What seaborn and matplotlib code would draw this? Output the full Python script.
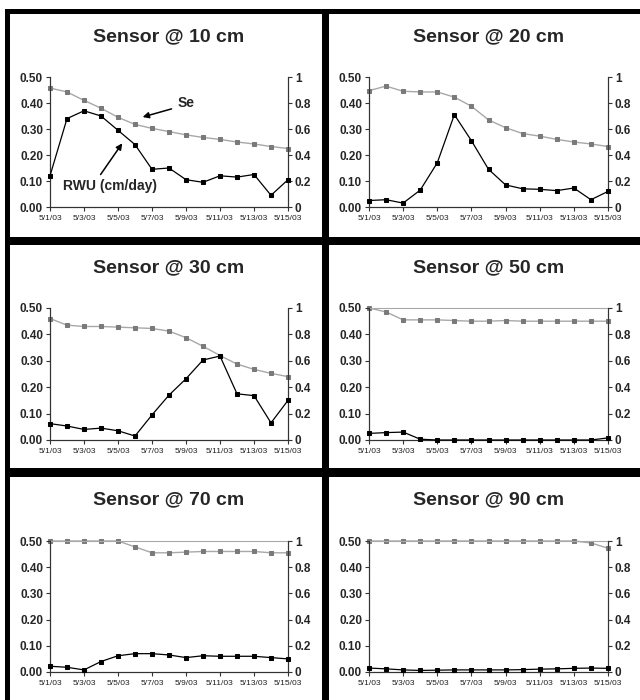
import matplotlib
matplotlib.use('Agg')
import matplotlib.pyplot as plt
import seaborn as sns
from matplotlib.patches import Rectangle

sns.set_style('white')
plt.rcParams['font.family'] = ['Liberation Sans', 'DejaVu Sans']

# days of May 2003
days = list(range(1, 16))
tick_days = [1, 3, 5, 7, 9, 11, 13, 15]
tick_labels = ['5/1/03', '5/3/03', '5/5/03', '5/7/03', '5/9/03', '5/11/03', '5/13/03', '5/15/03']

depths = ['10', '20', '30', '50', '70', '90']

# root water uptake, cm/day (left axis)
rwu_10 = [0.12, 0.34, 0.37, 0.35, 0.295, 0.24, 0.145, 0.15, 0.105, 0.095, 0.12, 0.115, 0.125, 0.045, 0.105]
rwu_20 = [0.025, 0.028, 0.015, 0.065, 0.17, 0.355, 0.255, 0.145, 0.085, 0.07, 0.068, 0.063, 0.073, 0.028, 0.06]
rwu_30 = [0.062, 0.053, 0.04, 0.045, 0.035, 0.015, 0.095, 0.17, 0.232, 0.303, 0.318, 0.175, 0.168, 0.065, 0.15]
rwu_50 = [0.025, 0.028, 0.03, 0.003, 0.0, 0.0, 0.0, 0.0, 0.0, 0.0, 0.0, 0.0, 0.0, 0.0, 0.008]
rwu_70 = [0.022, 0.018, 0.008, 0.04, 0.062, 0.07, 0.07, 0.065, 0.055, 0.062, 0.06, 0.06, 0.06, 0.055, 0.05]
rwu_90 = [0.015, 0.012, 0.008, 0.006, 0.007, 0.008, 0.008, 0.008, 0.008, 0.009, 0.011, 0.012, 0.014, 0.015, 0.014]

# effective saturation Se (right axis)
se_10 = [0.915, 0.885, 0.82, 0.76, 0.69, 0.635, 0.605, 0.58, 0.555, 0.535, 0.52, 0.50, 0.485, 0.465, 0.45]
se_20 = [0.895, 0.93, 0.89, 0.885, 0.885, 0.845, 0.775, 0.67, 0.61, 0.565, 0.545, 0.52, 0.50, 0.485, 0.465]
se_30 = [0.92, 0.87, 0.86, 0.86, 0.855, 0.85, 0.845, 0.825, 0.775, 0.71, 0.64, 0.575, 0.535, 0.505, 0.48]
se_50 = [1.0, 0.97, 0.91, 0.91, 0.91, 0.905, 0.90, 0.90, 0.905, 0.90, 0.90, 0.90, 0.90, 0.90, 0.90]
se_70 = [1.0, 1.0, 1.0, 1.0, 1.0, 0.955, 0.91, 0.91, 0.915, 0.92, 0.92, 0.92, 0.92, 0.91, 0.91]
se_90 = [1.0, 1.0, 1.0, 1.0, 1.0, 1.0, 1.0, 1.0, 1.0, 1.0, 1.0, 1.0, 1.0, 0.985, 0.945]

rwu_all = [rwu_10, rwu_20, rwu_30, rwu_50, rwu_70, rwu_90]
se_all = [se_10, se_20, se_30, se_50, se_70, se_90]

W, H = 640, 700
fig = plt.figure(figsize=(6.4, 7.0), dpi=100)

# axes boxes in pixels: left, right, top, bottom
col_x = [(50, 288), (369, 608)]
row_y = [(77, 207, 37), (308, 440, 268), (541, 672, 500)]
top_line = [False, False, False, True, True, True]

xfont = ['Liberation Sans Narrow', 'Liberation Sans']

for i, d in enumerate(depths):
    r, c = divmod(i, 2)
    l, rt = col_x[c]
    t, b, ty = row_y[r]
    ax = fig.add_axes([l / W, 1 - b / H, (rt - l) / W, (b - t) / H])
    ax2 = ax.twinx()

    sns.lineplot(x=days, y=se_all[i], ax=ax2, color='#a8a8a8', lw=1.0, marker='s',
                 markersize=3.5, markerfacecolor='#7a7a7a', markeredgecolor='#7a7a7a',
                 clip_on=False, zorder=2)
    sns.lineplot(x=days, y=rwu_all[i], ax=ax, color='black', lw=0.9, marker='s',
                 markersize=3.0, markerfacecolor='black', markeredgecolor='black',
                 clip_on=False, zorder=3)
    ax.set_zorder(ax2.get_zorder() + 1)
    ax.patch.set_visible(False)

    ax.set_xlim(1, 15)
    ax.set_ylim(0, 0.5)
    ax2.set_ylim(0, 1)
    ax.set_xticks(tick_days)
    ax.set_xticklabels(tick_labels, fontsize=6, family=xfont, color='#222222')
    ax.set_yticks([0, 0.1, 0.2, 0.3, 0.4, 0.5])
    ax.set_yticklabels(['%.2f' % v for v in [0, 0.1, 0.2, 0.3, 0.4, 0.5]],
                       fontsize=8.5, fontweight='bold')
    ax2.set_yticks([0, 0.2, 0.4, 0.6, 0.8, 1.0])
    ax2.set_yticklabels(['0', '0.2', '0.4', '0.6', '0.8', '1'], fontsize=8.5, fontweight='bold')
    ax.set_xlabel('')
    ax.set_ylabel('')
    ax2.set_ylabel('')

    for a in (ax, ax2):
        for s in ['left', 'right', 'bottom']:
            a.spines[s].set_color('#333333')
            a.spines[s].set_linewidth(0.8)
        a.spines['top'].set_visible(False)
    if top_line[i]:
        ax2.spines['top'].set_visible(True)
        ax2.spines['top'].set_color('#a8a8a8')
        ax2.spines['top'].set_linewidth(0.8)

    ax.tick_params(axis='both', direction='out', length=3, width=0.8, color='#333333', pad=2,
                   left=True, bottom=True)
    ax.tick_params(axis='x', pad=3)
    ax2.tick_params(axis='y', direction='out', length=3, width=0.8, color='#333333', pad=2, right=True)

    fig.text((l + rt) / 2 / W, 1 - ty / H, 'Sensor @ %s cm' % d, ha='center', va='center',
             fontsize=14, fontweight='bold')

    if i == 0:
        ax.annotate('Se', xy=(6.45, 0.346), xytext=(8.5, 0.40), fontsize=10, fontweight='bold',
                    ha='left', va='center',
                    arrowprops=dict(arrowstyle='-|>', color='black', lw=1.1, mutation_scale=9,
                                    shrinkA=2, shrinkB=0, relpos=(0, 0.2)))
        ax.annotate('RWU (cm/day)', xy=(5.25, 0.245), xytext=(1.75, 0.081), fontsize=10,
                    fontweight='bold', ha='left', va='center',
                    arrowprops=dict(arrowstyle='-|>', color='black', lw=1.1, mutation_scale=9,
                                    shrinkA=1, shrinkB=0, relpos=(0.37, 1)))

# thick black panel borders
def bar(x0, y0, x1, y1):
    fig.add_artist(Rectangle((x0 / W, 1 - y1 / H), (x1 - x0) / W, (y1 - y0) / H,
                             transform=fig.transFigure, facecolor='black', edgecolor='none'))

bar(5, 9, 640, 14)
bar(5, 9, 10, 700)
bar(322, 9, 329, 700)
bar(5, 237, 640, 245)
bar(5, 468, 640, 477)

fig.savefig('out.png', dpi=100)
